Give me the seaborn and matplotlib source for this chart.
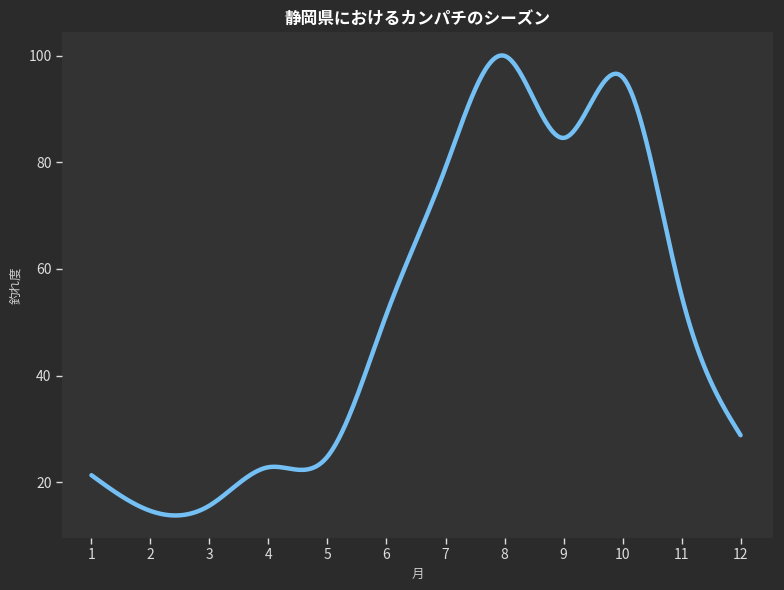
import numpy as np
import pandas as pd
import seaborn as sns
import matplotlib
matplotlib.use("Agg")
import matplotlib.pyplot as plt

# data
months = [1, 2, 3, 4, 5, 6, 7, 8, 9, 10, 11, 12]
catch_rate = [21.3, 14.6, 15.6, 22.8, 24.8, 51.5, 79, 100, 84.6, 96, 55, 28.8]

title = "静岡県におけるカンパチのシーズン"
xlabel = "月"
ylabel = "釣れ度"


def spline_curve(x, y, n=400):
    # natural cubic spline for the smooth line (uniform month spacing)
    x = np.asarray(x, float)
    y = np.asarray(y, float)
    k = len(x)
    h = x[1] - x[0]
    A = np.zeros((k, k))
    b = np.zeros(k)
    A[0, 0] = 1
    A[-1, -1] = 1
    for i in range(1, k - 1):
        A[i, i - 1:i + 2] = [1, 4, 1]
        b[i] = 6 * (y[i - 1] - 2 * y[i] + y[i + 1]) / h**2
    M = np.linalg.solve(A, b)
    xs = np.linspace(x[0], x[-1], n)
    idx = np.clip(np.searchsorted(x, xs) - 1, 0, k - 2)
    a = x[idx + 1] - xs
    c = xs - x[idx]
    ys = (M[idx] * a**3 + M[idx + 1] * c**3) / (6 * h) \
        + (y[idx] / h - M[idx] * h / 6) * a + (y[idx + 1] / h - M[idx + 1] * h / 6) * c
    return xs, ys


xs, ys = spline_curve(months, catch_rate)
df = pd.DataFrame({"月": xs, "釣れ度": ys})

sns.set_theme(style="dark")
plt.rcParams["font.family"] = ["Noto Sans CJK JP", "DejaVu Sans"]

fig = plt.figure(figsize=(7.84, 5.90), dpi=100, facecolor="#2b2b2b")
ax = fig.add_axes([0.079, 0.088, 0.907, 0.858])
ax.set_facecolor("#333333")

sns.lineplot(data=df, x="月", y="釣れ度", color="#74c0f4", linewidth=3.2, ax=ax)

ax.set_xticks(months)
ax.set_xlim(0.5, 12.55)
ax.set_ylim(9.5, 104.5)
ax.set_yticks([20, 40, 60, 80, 100])
for s in ax.spines.values():
    s.set_visible(False)
ax.tick_params(colors="#dddddd", labelsize=10, length=4, width=1, bottom=True, left=True)
ax.set_title(title, color="white", fontsize=12, fontweight="bold", pad=6)
ax.set_xlabel(xlabel, color="#cccccc", fontsize=9)
ax.set_ylabel(ylabel, color="#cccccc", fontsize=9)
ax.grid(False)

fig.savefig("out.png", dpi=100, facecolor=fig.get_facecolor())
